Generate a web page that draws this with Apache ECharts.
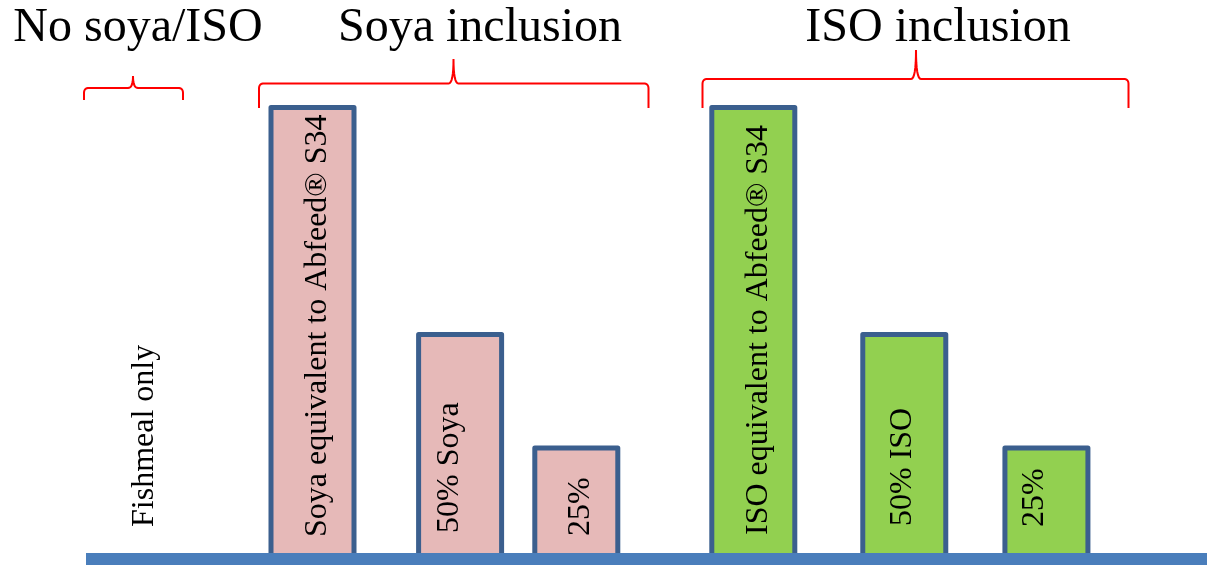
<!DOCTYPE html>
<html>
<head>
<meta charset="utf-8">
<script src="https://cdn.jsdelivr.net/npm/echarts@6/dist/echarts.min.js"></script>
<style>html,body{margin:0;padding:0;background:#fff;}#c{width:1207px;height:565px;}</style>
</head>
<body>
<div id="c"></div>
<script>
// ---- data ----
var groupNames = ['No soya/ISO', 'Soya inclusion', 'ISO inclusion'];
var fishmealCategories = ['Fishmeal only'];
var fishmealValues = [0];
var soyaCategories = ['Soya equivalent to Abfeed® S34', '50% Soya', '25%'];
var soyaValues = [100, 50, 25];
var isoCategories = ['ISO equivalent to Abfeed® S34', '50% ISO', '25%'];
var isoValues = [100, 50, 25];

// ---- styling ----
var FONT = "'Liberation Serif', 'Times New Roman', serif";
var BORDER = '#3b5f8e';
var fishmealLabelGap = [32];
var soyaLabelGap = [22, 26, 23];
var isoLabelGap = [24, 33, 32];
var fishmealLabelShift = [2];
var soyaLabelShift = [5, -11, 4];
var isoLabelShift = [5, -2, -12];

function items(values, gaps, shifts) {
  return values.map(function (v, i) {
    // label is rotated 90deg, so its local y axis points right on screen
    return { value: v, label: { distance: gaps[i], offset: [0, shifts[i]] } };
  });
}
function labelCfg() {
  return { show: true, position: 'insideBottom', rotate: 90, align: 'left', verticalAlign: 'middle',
    formatter: '{b}', fontSize: 32, fontFamily: FONT, color: '#000' };
}
function hiddenX(idx, cats) {
  return { type: 'category', gridIndex: idx, data: cats, axisLine: { show: false }, axisTick: { show: false },
    axisLabel: { show: false }, splitLine: { show: false } };
}
function hiddenY(idx) {
  return { type: 'value', gridIndex: idx, min: 0, max: 100, show: false, splitLine: { show: false } };
}
function barSeries(idx, values, gaps, shifts, fill, border) {
  return { type: 'bar', xAxisIndex: idx, yAxisIndex: idx, barWidth: 88, data: items(values, gaps, shifts),
    itemStyle: border ? { color: fill, borderColor: BORDER, borderWidth: 5, borderJoin: 'round' }
                      : { color: fill, borderWidth: 0 },
    label: labelCfg() };
}
function quad(pts, p0, c, p1) {
  for (var k = 1; k <= 8; k++) {
    var t = k / 8, u = 1 - t;
    pts.push([u * u * p0[0] + 2 * u * t * c[0] + t * t * p1[0], u * u * p0[1] + 2 * u * t * c[1] + t * t * p1[1]]);
  }
}
function brace(x1, x2, xm, yh, yend, ytip) {
  var r = 5, t = 5, pts = [[x1, yend], [x1, yh + r]];
  quad(pts, [x1, yh + r], [x1, yh], [x1 + r, yh]);
  pts.push([xm - t, yh]);
  quad(pts, [xm - t, yh], [xm, yh], [xm, ytip]);
  quad(pts, [xm, ytip], [xm, yh], [xm + t, yh]);
  pts.push([x2 - r, yh]);
  quad(pts, [x2 - r, yh], [x2, yh], [x2, yh + r]);
  pts.push([x2, yend]);
  return { type: 'polyline', shape: { points: pts }, style: { fill: null, stroke: '#ff0000', lineWidth: 2 } };
}
function title(text, x) {
  return { type: 'text', x: x, y: 28, style: { text: text, fontSize: 48, fontFamily: FONT, fill: '#000',
    align: 'center', verticalAlign: 'middle' } };
}

var chart = echarts.init(document.getElementById('c'), null, { renderer: 'canvas' });
var gridTop = 105, gridBottom = 6;
function g(left, width) { return { left: left, width: width, top: gridTop, bottom: gridBottom }; }
chart.setOption({
  animation: false,
  backgroundColor: '#fff',
  grid: [
    { left: 86, right: 0, top: gridTop, bottom: gridBottom },   // 0 baseline
    g(86, 114),        // 1 fishmeal
    g(268.5, 88),      // 2 soya equivalent
    g(402, 232.4),     // 3 soya 50% / 25%
    g(709.3, 88),      // 4 ISO equivalent
    g(833.2, 284.3)    // 5 ISO 50% / 25%
  ],
  xAxis: [
    { type: 'category', gridIndex: 0, data: [''], z: 10,
      axisLine: { show: true, lineStyle: { color: '#4a7ebb', width: 12, cap: 'butt' } },
      axisTick: { show: false }, axisLabel: { show: false }, splitLine: { show: false } },
    hiddenX(1, fishmealCategories),
    hiddenX(2, soyaCategories.slice(0, 1)),
    hiddenX(3, soyaCategories.slice(1)),
    hiddenX(4, isoCategories.slice(0, 1)),
    hiddenX(5, isoCategories.slice(1))
  ],
  yAxis: [hiddenY(0), hiddenY(1), hiddenY(2), hiddenY(3), hiddenY(4), hiddenY(5)],
  series: [
    barSeries(1, fishmealValues, fishmealLabelGap, fishmealLabelShift, 'rgba(0,0,0,0)', false),
    barSeries(2, soyaValues.slice(0, 1), soyaLabelGap.slice(0, 1), soyaLabelShift.slice(0, 1), '#e6b9b8', true),
    barSeries(3, soyaValues.slice(1), soyaLabelGap.slice(1), soyaLabelShift.slice(1), '#e6b9b8', true),
    barSeries(4, isoValues.slice(0, 1), isoLabelGap.slice(0, 1), isoLabelShift.slice(0, 1), '#92d050', true),
    barSeries(5, isoValues.slice(1), isoLabelGap.slice(1), isoLabelShift.slice(1), '#92d050', true)
  ],
  graphic: [
    title(groupNames[0], 138),
    title(groupNames[1], 480),
    title(groupNames[2], 938),
    brace(84, 183, 133, 88, 100, 76),
    brace(259, 648.5, 453.5, 83.5, 108, 59),
    brace(702.5, 1128.5, 916, 79, 108, 50)
  ]
});
</script>
</body>
</html>
